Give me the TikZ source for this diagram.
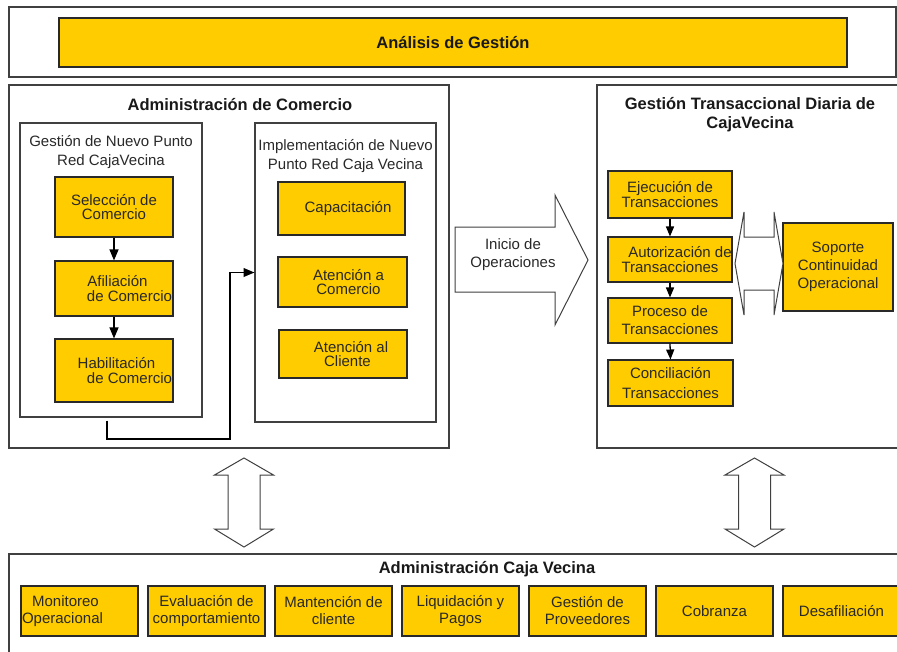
\documentclass[tikz,border=0pt]{standalone}
\usepackage{fontspec}
\setmainfont{Liberation Sans}
\usetikzlibrary{arrows}
\definecolor{cajayellow}{rgb}{1,0.8,0}
\definecolor{framegray}{rgb}{0.25,0.25,0.25}
\definecolor{inkgray}{rgb}{0.16,0.16,0.16}
\newcommand{\tightlines}{\lineskiplimit-20pt\relax}

\begin{document}
\begin{tikzpicture}[x=1pt,y=-1pt,
  panel/.style={draw=framegray, line width=1.3pt, fill=white},
  ybox/.style={draw=inkgray, line width=1.2pt, fill=cajayellow, inner sep=0pt,
    align=center, text=inkgray, font=\fontsize{15}{14.5}\selectfont\tightlines},
  heading/.style={align=center, text=black!90, inner sep=0pt,
    font=\bfseries\fontsize{16.5}{19}\selectfont},
  subheading/.style={align=center, text=inkgray, inner sep=0pt,
    font=\fontsize{15}{19}\selectfont},
  flow/.style={-triangle 45, line width=1.6pt},
  block/.style={draw=framegray, line width=1pt, fill=white, line join=miter}]
  \useasboundingbox (0,0) rectangle (897,651);

  \draw[panel] (9,7) rectangle (896,77);
  \node[ybox, minimum width=788, minimum height=49,
    font=\bfseries\fontsize{16.5}{19}\selectfont, text=black!90] (analisis) at (453,42.5) {Análisis de Gestión};

  \draw[panel] (9,85) rectangle (449,448);
  \node[heading] (comercio) at (240,105) {Administración de Comercio};
  \node[panel, minimum width=182, minimum height=294] (gnp) at (111,270) {};
  \node[panel, minimum width=181, minimum height=299] (inp) at (345.5,272.5) {};
  \node[subheading] (gnptitle) at (111,152.5) {Gestión de Nuevo Punto\\Red CajaVecina};
  \node[subheading] (inptitle) at (345.5,156.5) {Implementación de Nuevo\\Punto Red Caja Vecina};

  \node[ybox, minimum width=118, minimum height=60] (selec) at (114,207) {Selección de\\Comercio};
  \node[ybox, minimum width=118, minimum height=55] (afil) at (114,288.5) {\hspace*{7pt}Afiliación\\\hspace*{31pt}de Comercio};
  \node[ybox, minimum width=118, minimum height=63] (habil) at (114,370.5) {\hspace*{5pt}Habilitación\\\hspace*{31pt}de Comercio};
  \foreach \a/\b in {selec/afil, afil/habil}
    \draw[flow] (\a.south) -- (\b.north);

  \node[ybox, minimum width=127, minimum height=53] (capac) at (341.5,208.5) {\hspace*{13pt}Capacitación};
  \node[ybox, minimum width=129, minimum height=50] (atcom) at (342.5,282) {\hspace*{12pt}Atención a\\\hspace*{12pt}Comercio};
  \node[ybox, minimum width=128, minimum height=48] (atcli) at (343,354) {\hspace*{16pt}Atención al\\\hspace*{9pt}Cliente};

  \coordinate (elbow) at (230,439);
  \draw[flow, line width=1.5pt] ([xshift=-4pt,yshift=-3pt]gnp.south) |- (elbow) |- (inp.west);

  \draw[block] (455,227) -- (555,227) -- (555,195) -- (588,260) -- (555,325)
    -- (555,292) -- (455,292) -- cycle;
  \node[subheading, font=\fontsize{15}{18}\selectfont] (inicio) at (513,255) {Inicio de\\Operaciones};

  \draw[panel] (597,85) rectangle (905,448);
  \node[heading] (diaria) at (750,114.5) {Gestión Transaccional Diaria de\\CajaVecina};
  \node[ybox, minimum width=124, minimum height=47] (ejec) at (670,194.5) {Ejecución de\\Transacciones};
  \node[ybox, minimum width=124, minimum height=45, font=\fontsize{15}{15.5}\selectfont\tightlines]
    (autor) at (670,259.5) {\hspace*{20pt}Autorización de\\Transacciones};
  \node[ybox, minimum width=124, minimum height=45, font=\fontsize{15}{18}\selectfont] (proc) at (670,320.5) {Proceso de\\Transacciones};
  \node[ybox, minimum width=125, minimum height=46, font=\fontsize{15}{20}\selectfont] (conc) at (670.5,383) {Conciliación\\Transacciones};
  \foreach \a/\b in {ejec/autor, autor/proc, proc/conc}
    \draw[flow, line width=1.3pt] (\a.south) -- (\b.north);
  \node[ybox, minimum width=110, minimum height=88, font=\fontsize{15}{18}\selectfont] (soporte) at (838,267) {Soporte\\Continuidad\\Operacional};

  \draw[block] (735,263.5) -- (744,212) -- (744,237) -- (774,237) -- (774,212) -- (783,263.5)
    -- (774,315) -- (774,290) -- (744,290) -- (744,315) -- cycle;

  \foreach \cx in {244, 754.5} {
    \draw[block] (\cx,458) -- (\cx+29.5,475) -- (\cx+16,475) -- (\cx+16,529) -- (\cx+29.5,529)
      -- (\cx,547) -- (\cx-29.5,529) -- (\cx-16,529) -- (\cx-16,475) -- (\cx-29.5,475) -- cycle;
  }

  \draw[panel] (9,554) rectangle (905,700);
  \node[heading] (cajavecina) at (487,569) {Administración Caja Vecina};
  \foreach \t [count=\i from 0] in {{Monitoreo\hspace*{28pt}\\Operacional\hspace*{34pt}},
      {Evaluación de\\comportamiento}, {Mantención de\\cliente}, {Liquidación y\\Pagos},
      {Gestión de\\Proveedores}, {Cobranza}, {Desafiliación}}
    \node[ybox, minimum width=117, minimum height=50, font=\fontsize{15}{17}\selectfont]
      (adm\i) at (79.5+127*\i,611) {\t};
\end{tikzpicture}
\end{document}
